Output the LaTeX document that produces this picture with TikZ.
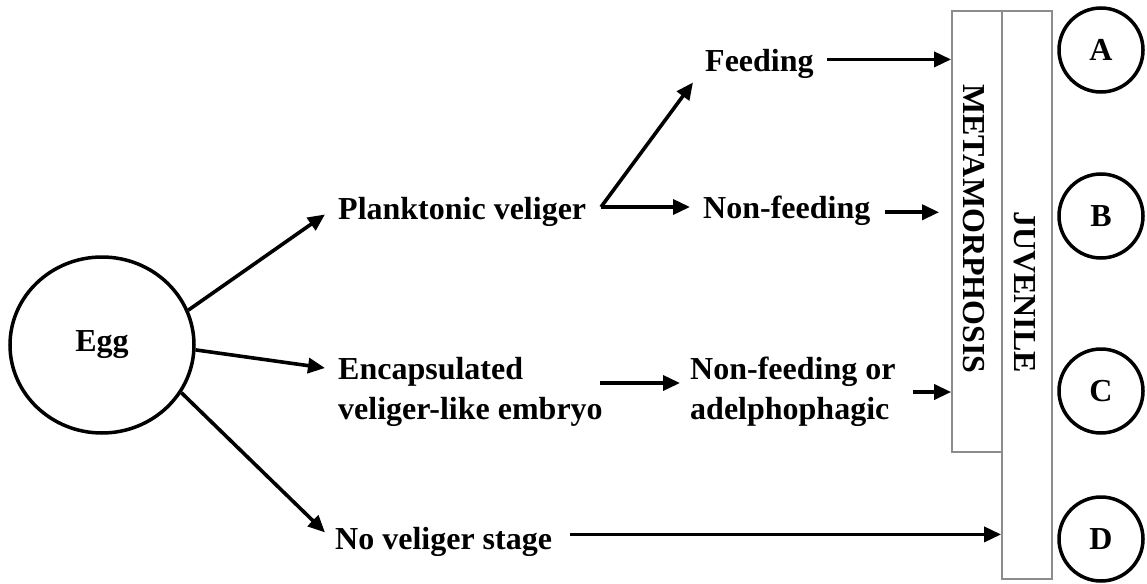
\documentclass[tikz,border=0pt]{standalone}
\usepackage{fontspec}
\setmainfont{Liberation Serif}
\usetikzlibrary{arrows.meta,shapes.geometric}
\begin{document}
\begin{tikzpicture}[x=1pt,y=-1pt,
  lbl/.style={inner sep=0pt,font=\fontsize{32}{40}\selectfont\bfseries},
  arr/.style={line width=3.6pt,-{Triangle[length=17pt,width=15pt]}},
  stagebox/.style={draw=black!45,line width=1.8pt},
  outcome/.style={circle,draw,line width=3.5pt,minimum size=84pt,inner sep=0pt,font=\fontsize{32}{40}\selectfont\bfseries}]
\useasboundingbox (0,0) rectangle (1147,583);
% egg
\node[ellipse,draw,line width=3.5pt,minimum width=184pt,minimum height=176pt,inner sep=0pt,font=\fontsize{32}{40}\selectfont\bfseries] (egg) at (102,345) {Egg};
% texts
\node[lbl,anchor=base west] (pv) at (338,219) {Planktonic veliger};
\node[lbl,anchor=base west] (fd) at (705,72) {Feeding};
\node[lbl,anchor=base west] (nf) at (703,218) {Non-feeding};
\node[lbl,anchor=west,align=left] (enc) at (338,392) {Encapsulated\\veliger-like embryo};
\node[lbl,anchor=west,align=left] (nfo) at (690,392) {Non-feeding or\\adelphophagic};
\node[lbl,anchor=base west] (nv) at (335,549) {No veliger stage};
% boxes
\node[stagebox,rectangle,minimum width=50pt,minimum height=441pt,inner sep=0pt] (meta) at (977,231.5) {};
\node[stagebox,rectangle,minimum width=50pt,minimum height=568pt,inner sep=0pt] (juv) at (1027,295) {};
\node[lbl,rotate=-90] (metatxt) at (974,229) {METAMORPHOSIS};
\node[lbl,rotate=-90] (juvtxt) at (1025,292) {JUVENILE};
% outcomes
\node[outcome] (A) at (1101,50) {A};
\node[outcome] (B) at (1101,216) {B};
\node[outcome] (C) at (1101,391) {C};
\node[outcome] (D) at (1101,539) {D};
% connectors
\coordinate (fork) at (601,207);
\draw[arr] (egg.22) -- ([xshift=-13pt,yshift=-3pt]pv.west);
\draw[arr] (egg.-3) -- ([xshift=-13pt,yshift=24pt]enc.west);
\draw[arr] (egg.-31) -- ([xshift=-10pt,yshift=9pt]nv.west);
\draw[arr] (fork) -- ([xshift=-12pt,yshift=-18pt]fd.west);
\draw[arr] (fork) -- ([xshift=-13pt]nf.west |- fork);
\draw[arr] ([xshift=13pt,yshift=5pt]fd.east) -- ([yshift=5pt]fd.east -| meta.west);
\draw[arr] ([xshift=14pt,yshift=-2pt]nf.east) -- ([xshift=-12pt,yshift=-2pt]nf.east -| meta.west);
\draw[arr] ([xshift=-3pt,yshift=9pt]enc.east) -- ([xshift=-10pt,yshift=9pt]nfo.west);
\draw[arr] ([xshift=17pt]nfo.east) -- (nfo.east -| meta.west);
\draw[arr] ([xshift=18pt,yshift=7pt]nv.east) -- ([yshift=7pt]nv.east -| juv.west);
\end{tikzpicture}
\end{document}
